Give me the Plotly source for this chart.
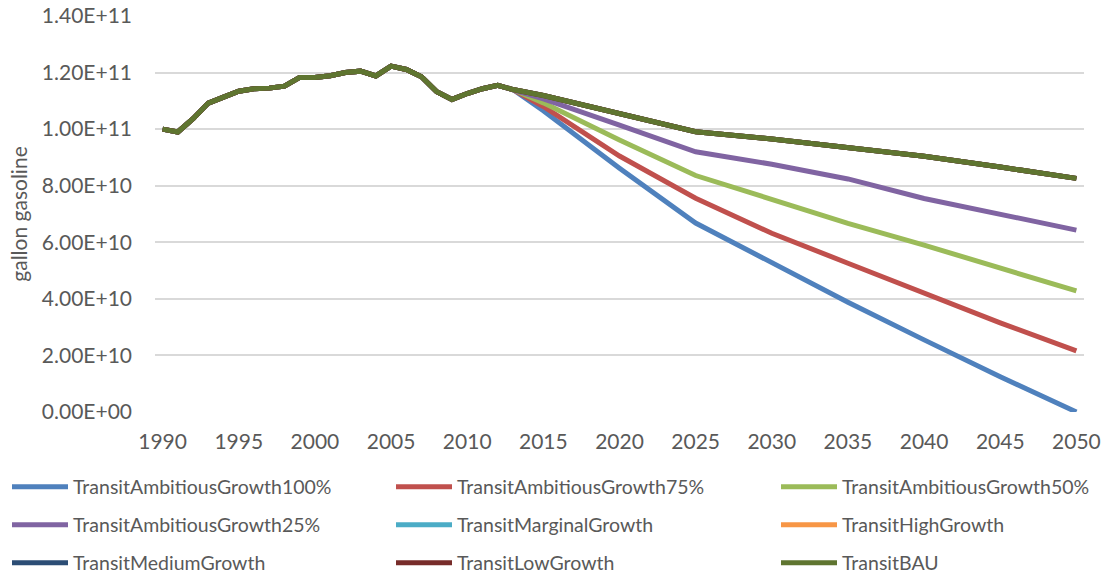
import plotly.graph_objects as go

hist_years = list(range(1990, 2014))
hist_vals = [1.000, 0.990, 1.037, 1.092, 1.113, 1.134, 1.143, 1.145, 1.152, 1.183,
             1.183, 1.189, 1.200, 1.205, 1.188, 1.223, 1.211, 1.185, 1.132, 1.105,
             1.126, 1.143, 1.155, 1.140]
proj_years = [2015, 2020, 2025, 2030, 2035, 2040, 2045, 2050]

amb100 = [1.065, 0.862, 0.668, 0.526, 0.388, 0.255, 0.125, 0.000]
amb75 = [1.080, 0.905, 0.756, 0.632, 0.526, 0.420, 0.315, 0.216]
amb50 = [1.093, 0.962, 0.836, 0.752, 0.667, 0.590, 0.510, 0.428]
amb25 = [1.107, 1.014, 0.920, 0.876, 0.824, 0.755, 0.700, 0.643]
marginal = [1.119, 1.055, 0.991, 0.965, 0.935, 0.904, 0.866, 0.826]
high = [1.119, 1.055, 0.991, 0.965, 0.935, 0.904, 0.866, 0.826]
medium = [1.119, 1.055, 0.991, 0.965, 0.935, 0.904, 0.866, 0.826]
low = [1.119, 1.055, 0.991, 0.965, 0.935, 0.904, 0.866, 0.826]
bau = [1.119, 1.055, 0.991, 0.965, 0.935, 0.904, 0.866, 0.826]
SCALE = 1e11

names = ["TransitAmbitiousGrowth100%", "TransitAmbitiousGrowth75%", "TransitAmbitiousGrowth50%",
         "TransitAmbitiousGrowth25%", "TransitMarginalGrowth", "TransitHighGrowth",
         "TransitMediumGrowth", "TransitLowGrowth", "TransitBAU"]
series = [amb100, amb75, amb50, amb25, marginal, high, medium, low, bau]
colors = ["#4F81BD", "#C0504D", "#9BBB59", "#8064A2", "#4BACC6", "#F79646",
          "#2C4D75", "#772C2A", "#5F7530"]

y_ticks = [0, 2e10, 4e10, 6e10, 8e10, 1e11, 1.2e11, 1.4e11]
y_ticktext = [f"{v:.2E}" for v in y_ticks]
x_ticks = list(range(1990, 2051, 5))

FONT = "Lato, 'Open Sans', sans-serif"
GREY = "#595959"

top, bottom, left, right = 16, 412, 155, 1084
pw = right - left
def paper_y(py):
    return (bottom - py) / (bottom - top)
def paper_x(px):
    return (px - left) / pw

col_x = [7, 391, 776]
row_y = [487, 525, 563]

fig = go.Figure()
layout_legends = {}
for i, (name, vals, col) in enumerate(zip(names, series, colors)):
    key = "legend" if i == 0 else f"legend{i + 1}"
    xs = hist_years + proj_years
    ys = [v * SCALE for v in hist_vals + vals]
    fig.add_trace(go.Scatter(x=xs, y=ys, mode="lines", name=name, showlegend=True,
                             line=dict(color=col, width=5), legend=key))
    layout_legends[key] = dict(
        orientation="h", xanchor="left", yanchor="middle",
        x=paper_x(col_x[i % 3]), y=paper_y(row_y[i // 3]),
        font=dict(family=FONT, size=19.5, color=GREY),
        itemwidth=56, bgcolor="rgba(0,0,0,0)")

fig.update_layout(
    width=1109, height=576, showlegend=True,
    margin=dict(l=left, r=1109 - right, t=top, b=576 - bottom, autoexpand=False),
    plot_bgcolor="white", paper_bgcolor="white",
    font=dict(family=FONT, color=GREY),
    xaxis=dict(range=[1989.5, 2050.5], tickvals=x_ticks, showgrid=False,
               showline=False, ticks="", ticklabelstandoff=15,
               tickfont=dict(family=FONT, size=21, color=GREY), zeroline=False),
    yaxis=dict(range=[0, 1.4e11], tickvals=y_ticks, ticktext=y_ticktext,
               showgrid=True, gridcolor="#D9D9D9", gridwidth=1.5,
               showline=False, zeroline=False, ticks="", ticklabelstandoff=22,
               tickfont=dict(family=FONT, size=21, color=GREY),
               title=dict(text="gallon gasoline", standoff=8,
                          font=dict(family=FONT, size=21, color=GREY))),
    **layout_legends,
)

fig.write_html("out.html", config={"displayModeBar": False},
               post_script="document.body.style.margin='0';")
